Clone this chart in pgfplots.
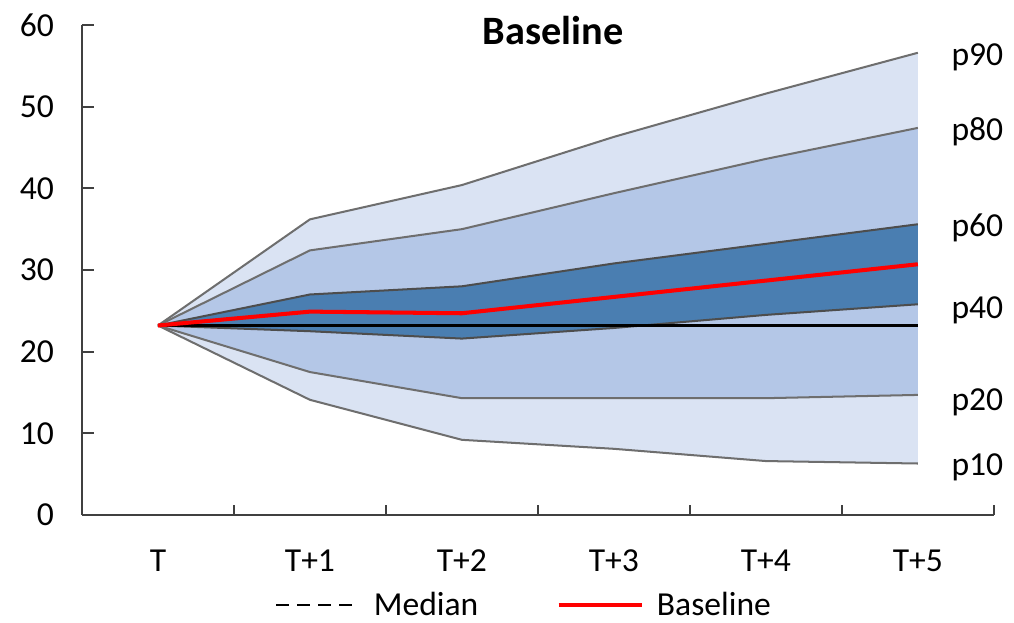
\documentclass[border=0pt]{standalone}
\usepackage{fontspec}
\setmainfont{Carlito}
\usepackage{pgfplots}
\pgfplotsset{compat=1.18}
\usepgfplotslibrary{fillbetween}
\usepackage{pgfplotstable}
\definecolor{lightband}{RGB}{218,227,243}
\definecolor{midband}{RGB}{180,199,231}
\definecolor{darkband}{RGB}{74,126,177}
\definecolor{edge}{RGB}{110,110,110}
\pgfplotstableread{
x p10 p20 p40 p60 p80 p90 base med
0 23.2 23.2 23.2 23.2 23.2 23.2 23.2 23.2
1 14.1 17.5 22.5 27.0 32.4 36.2 24.9 23.2
2 9.2 14.3 21.6 28.0 35.0 40.4 24.7 23.2
3 8.1 14.3 22.9 30.8 39.4 46.3 26.7 23.2
4 6.6 14.3 24.5 33.2 43.6 51.6 28.7 23.2
5 6.3 14.7 25.8 35.6 47.4 56.6 30.7 23.2
}\fan
\begin{document}
\begin{tikzpicture}
\begin{axis}[
  at={(0,0)}, anchor=south west, scale only axis,
  width=407.4pt, height=218.9pt,
  xmin=-0.5, xmax=5.5, ymin=0, ymax=60,
  ytick={0,10,...,60},
  xtick={0,...,5}, xticklabels={T,T+1,T+2,T+3,T+4,T+5},
  minor xtick={-0.5,0.5,1.5,2.5,3.5,4.5,5.5},
  axis x line=bottom, axis y line=left,
  axis line style={-, black!75, line width=0.9pt},
  tick align=inside,
  major x tick style={draw=none},
  tick style={black!75, line width=0.9pt},
  major tick length=5.5pt, minor tick length=4.5pt,
  /pgf/number format/assume math mode=true,
  tick label style={font=\fontsize{15}{18}\selectfont},
  xticklabel style={yshift=-12pt},
  yticklabel style={xshift=-9pt},
  clip=false,
  legend columns=2,
  legend style={at={(0.486,-0.184)}, anchor=center, draw=none, fill=none,
    font=\fontsize{15}{18}\selectfont,
    /tikz/every odd column/.append style={column sep=4pt},
    /tikz/every even column/.append style={column sep=33pt}},
  legend image code/.code={\draw[#1] (0pt,0pt) -- (37pt,0pt);},
]
\addplot[draw=none, name path=p10, forget plot] table[x=x,y=p10]{\fan};
\addplot[draw=none, name path=p20, forget plot] table[x=x,y=p20]{\fan};
\addplot[draw=none, name path=p40, forget plot] table[x=x,y=p40]{\fan};
\addplot[draw=none, name path=p60, forget plot] table[x=x,y=p60]{\fan};
\addplot[draw=none, name path=p80, forget plot] table[x=x,y=p80]{\fan};
\addplot[draw=none, name path=p90, forget plot] table[x=x,y=p90]{\fan};
\addplot[lightband, forget plot] fill between[of=p90 and p10];
\addplot[midband, forget plot] fill between[of=p80 and p20];
\addplot[darkband, forget plot] fill between[of=p60 and p40];
\addplot[edge, line width=0.9pt, forget plot] table[x=x,y=p10]{\fan};
\addplot[edge, line width=0.9pt, forget plot] table[x=x,y=p20]{\fan};
\addplot[edge!70!black, line width=0.9pt, forget plot] table[x=x,y=p40]{\fan};
\addplot[edge!70!black, line width=0.9pt, forget plot] table[x=x,y=p60]{\fan};
\addplot[edge, line width=0.9pt, forget plot] table[x=x,y=p80]{\fan};
\addplot[edge, line width=0.9pt, forget plot] table[x=x,y=p90]{\fan};
\addplot[black, line width=1.5pt, forget plot] table[x=x,y=med]{\fan};
\addplot[red, line width=1.8pt, forget plot] table[x=x,y=base]{\fan};
\addlegendimage{black, line width=1.2pt, dash pattern=on 5.8pt off 3.6pt}
\addlegendentry{Median}
\addlegendimage{red, line width=1.8pt}
\addlegendentry{Baseline}
\node[font=\fontsize{18}{21}\selectfont\bfseries] at (axis cs:2.6,59.3) {Baseline};
\node[anchor=west, font=\fontsize{15}{18}\selectfont] at (axis cs:5.17,56.1) {p90};
\node[anchor=west, font=\fontsize{15}{18}\selectfont] at (axis cs:5.17,46.9) {p80};
\node[anchor=west, font=\fontsize{15}{18}\selectfont] at (axis cs:5.17,35.1) {p60};
\node[anchor=west, font=\fontsize{15}{18}\selectfont] at (axis cs:5.17,25.1) {p40};
\node[anchor=west, font=\fontsize{15}{18}\selectfont] at (axis cs:5.17,13.8) {p20};
\node[anchor=west, font=\fontsize{15}{18}\selectfont] at (axis cs:5.17,5.8) {p10};
\end{axis}
\pgfresetboundingbox
\path (-36.63pt,-48.25pt) rectangle (416.4pt,230.07pt);
\end{tikzpicture}
\end{document}
